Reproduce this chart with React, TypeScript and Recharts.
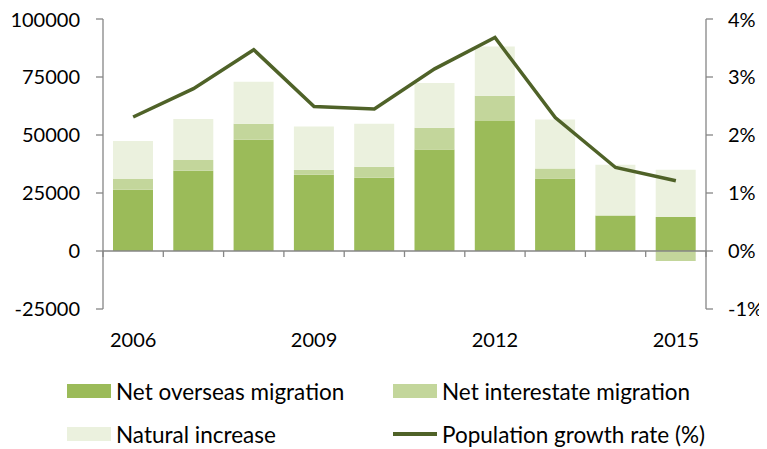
import React from "react"
import { Bar, ComposedChart, Line, ReferenceLine, XAxis, YAxis } from "recharts"

const years = ["2006", "2007", "2008", "2009", "2010", "2011", "2012", "2013", "2014", "2015"]
const netOverseas = [26400, 34600, 48000, 32900, 31600, 43700, 56000, 31200, 15300, 14700]
const netInterstate = [4600, 4600, 6900, 2100, 4700, 9400, 10900, 4400, 0, -4300]
const naturalIncrease = [16400, 17700, 18100, 18700, 18600, 19300, 21200, 21100, 21900, 20300]
const growthRate = [2.31, 2.8, 3.47, 2.49, 2.45, 3.14, 3.68, 2.3, 1.44, 1.21]

const leftTicks = [-25000, 0, 25000, 50000, 75000, 100000]
const rightTicks = [-1, 0, 1, 2, 3, 4]

const legendItems = [
    { name: "Net overseas migration", color: "#9bbb59", kind: "bar" },
    { name: "Net interestate migration", color: "#c3d69b", kind: "bar" },
    { name: "Natural increase", color: "#ebf1de", kind: "bar" },
    { name: "Population growth rate (%)", color: "#4f6228", kind: "line" },
]

const data = years.map((year, i) => ({
    year,
    overseas: netOverseas[i],
    interstate: netInterstate[i],
    natural: naturalIncrease[i],
    rate: growthRate[i],
}))

const AXIS = "#868686"
const FONT = "Lato, 'Open Sans', sans-serif"
const tickStyle = { fill: "#000", fontSize: 20, fontFamily: FONT }

// zero line with the category boundary tick marks hanging below it
const ZeroLine = (props: any) => {
    const { x1, x2, y1 } = props
    const n = years.length
    const step = (x2 - x1) / n
    return (
        <g>
            <line x1={x1} x2={x2} y1={y1} y2={y1} stroke={AXIS} strokeWidth={1.3} />
            {Array.from({ length: n + 1 }, (_, i) => (
                <line key={i} x1={x1 + i * step} x2={x1 + i * step} y1={y1} y2={y1 + 6} stroke={AXIS} strokeWidth={1.3} />
            ))}
        </g>
    )
}

export default function App() {
    return (
        <div style={{ position: "relative", width: 759, height: 441, fontFamily: FONT }}>
            <ComposedChart
                width={759}
                height={350}
                data={data}
                stackOffset="sign"
                margin={{ top: 11, right: 0, bottom: 0, left: 0 }}
            >
                <XAxis
                    dataKey="year"
                    xAxisId="x"
                    interval={2}
                    axisLine={false}
                    tickLine={false}
                    tickSize={0}
                    tickMargin={24}
                    height={49}
                    tick={tickStyle}
                />
                <YAxis
                    yAxisId="left"
                    domain={[-25000, 100000]}
                    ticks={leftTicks}
                    width={95}
                    stroke={AXIS}
                    tickSize={7}
                    tickMargin={16}
                    tick={tickStyle}
                    tickLine={{ stroke: AXIS, strokeWidth: 1.3 }}
                    axisLine={{ stroke: AXIS, strokeWidth: 1.3 }}
                />
                <YAxis
                    yAxisId="right"
                    orientation="right"
                    domain={[-1, 4]}
                    ticks={rightTicks}
                    width={61}
                    tickSize={7}
                    tickMargin={15}
                    tick={tickStyle}
                    tickFormatter={(v) => `${v}%`}
                    tickLine={{ stroke: AXIS, strokeWidth: 1.3 }}
                    axisLine={{ stroke: AXIS, strokeWidth: 1.3 }}
                />
                <Bar dataKey="overseas" xAxisId="x" yAxisId="left" stackId="a" fill="#9bbb59" barSize={40} isAnimationActive={false} />
                <Bar dataKey="interstate" xAxisId="x" yAxisId="left" stackId="a" fill="#c3d69b" barSize={40} isAnimationActive={false} />
                <Bar dataKey="natural" xAxisId="x" yAxisId="left" stackId="a" fill="#ebf1de" barSize={40} isAnimationActive={false} />
                <ReferenceLine y={0} xAxisId="x" yAxisId="left" shape={ZeroLine} />
                <Line
                    dataKey="rate"
                    xAxisId="x"
                    yAxisId="right"
                    type="linear"
                    stroke="#4f6228"
                    strokeWidth={3.5}
                    dot={false}
                    isAnimationActive={false}
                />
            </ComposedChart>
            {legendItems.map((item, i) => {
                const col = i % 2
                const row = Math.floor(i / 2)
                return (
                    <div
                        key={item.name}
                        style={{
                            position: "absolute",
                            left: 59 + col * 326,
                            top: 369 + row * 43,
                            height: 28,
                            display: "flex",
                            alignItems: "center",
                            fontSize: 22.5,
                            color: "#000",
                            whiteSpace: "nowrap",
                        }}
                    >
                        <span
                            style={{
                                display: "inline-block",
                                width: 44,
                                height: item.kind === "bar" ? 14 : 4,
                                background: item.color,
                                marginRight: 5,
                            }}
                        />
                        {item.name}
                    </div>
                )
            })}
        </div>
    )
}
